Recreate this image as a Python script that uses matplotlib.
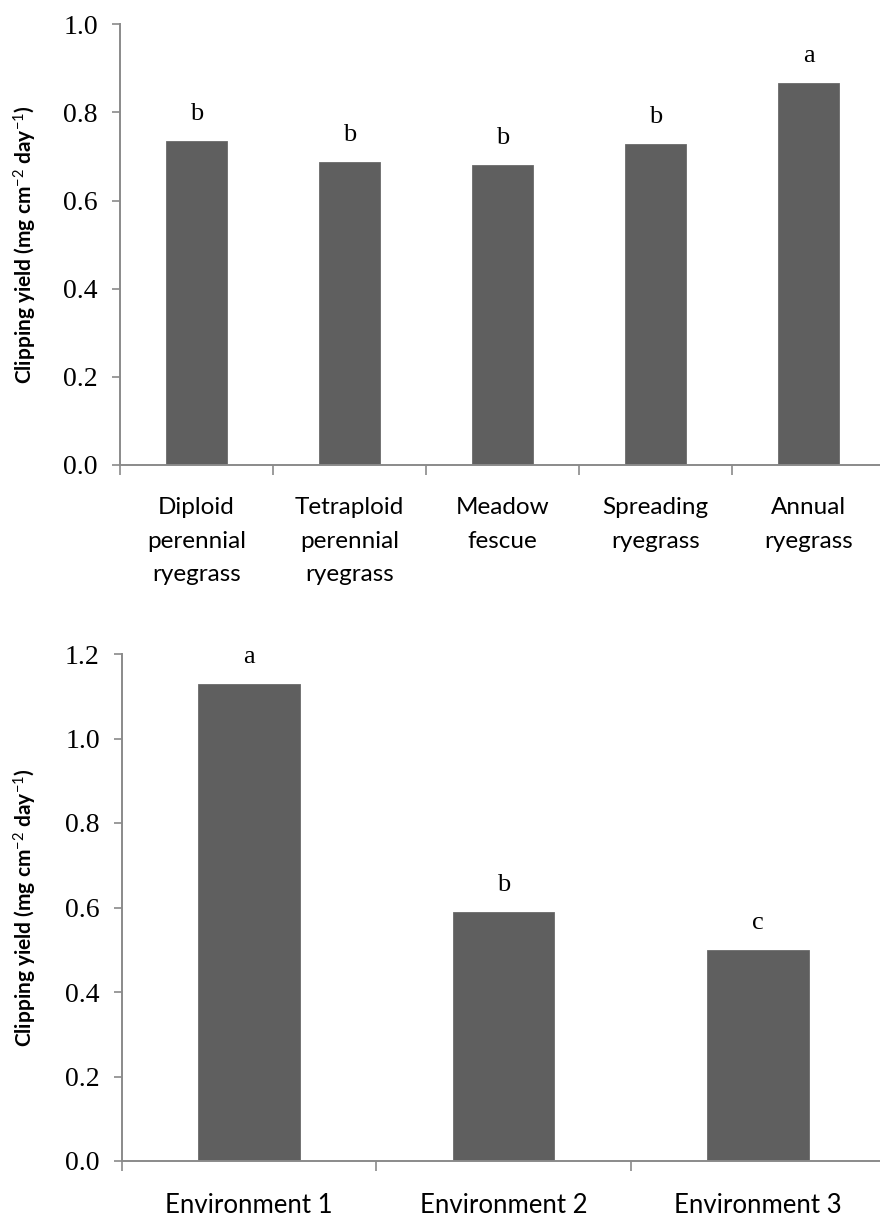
import matplotlib
matplotlib.use("Agg")
import matplotlib.pyplot as plt
import numpy as np

# ---- data ----
species = ["Diploid\nperennial\nryegrass", "Tetraploid\nperennial\nryegrass",
           "Meadow\nfescue", "Spreading\nryegrass", "Annual\nryegrass"]
species_yield = [0.736, 0.688, 0.680, 0.728, 0.867]
species_letters = ["b", "b", "b", "b", "a"]

environments = ["Environment 1", "Environment 2", "Environment 3"]
env_yield = [1.13, 0.59, 0.50]
env_letters = ["a", "b", "c"]

top_yticks = [0.0, 0.2, 0.4, 0.6, 0.8, 1.0]
bottom_yticks = [0.0, 0.2, 0.4, 0.6, 0.8, 1.0, 1.2]

plt.rcParams['mathtext.fontset'] = 'custom'
plt.rcParams['mathtext.rm'] = 'Lato'
plt.rcParams['mathtext.it'] = 'Lato:italic'
plt.rcParams['mathtext.bf'] = 'Lato:bold'

BAR = "#5f5f5f"
SPINE = "#8a8a8a"
SERIF = "Liberation Serif"
SANS = "Lato"

fig = plt.figure(figsize=(8.8, 12.16), dpi=100)
ax1 = fig.add_axes([120/880, 1-465/1216, 765/880, (465-24.3)/1216])
ax2 = fig.add_axes([122/880, 1-1161/1216, 763/880, (1161-654)/1216])

ylabel = "Clipping yield (mg cm$^{-2}$ day$^{-1}$)"

def style(ax, cats, vals, letters, yticks, ymax, xfs):
    n = len(cats)
    x = np.arange(n) + 0.5
    ax.bar(x, vals, width=0.4, color=BAR, edgecolor="#6a6a6a", linewidth=0.6, zorder=2)
    for xi, v, l in zip(x, vals, letters):
        ax.annotate(l, (xi, v), xytext=(0, 15), textcoords="offset points",
                    ha="center", va="baseline", fontsize=19, family=SERIF)
    ax.set_xlim(0, n)
    ax.set_ylim(0, ymax)
    ax.set_yticks(yticks)
    ax.set_yticklabels([f"{t:.1f}" for t in yticks], family=SERIF, fontsize=20)
    ax.set_xticks(x)
    ax.set_xticklabels(cats, family=SANS, fontsize=xfs, linespacing=1.75, va="top")
    ax.set_xticks(np.arange(n + 1), minor=True)
    ax.tick_params(axis="x", which="major", length=0, pad=23)
    ax.tick_params(axis="x", which="minor", length=7, width=1.2, color=SPINE, direction="out")
    ax.tick_params(axis="y", length=6, width=1.2, color=SPINE, pad=10, direction="out")
    for s in ["top", "right"]:
        ax.spines[s].set_visible(False)
    for s in ["left", "bottom"]:
        ax.spines[s].set_color(SPINE)
        ax.spines[s].set_linewidth(1.4)
    ax.set_ylabel(ylabel, family=SANS, fontsize=15, fontweight="bold")

style(ax1, species, species_yield, species_letters, top_yticks, 1.0, 17.5)
style(ax2, environments, env_yield, env_letters, bottom_yticks, 1.2, 18.5)

ax1.yaxis.set_label_coords(-81/765, 0.5)
ax2.yaxis.set_label_coords(-83/763, 0.5)

fig.savefig("out.png", dpi=100)
